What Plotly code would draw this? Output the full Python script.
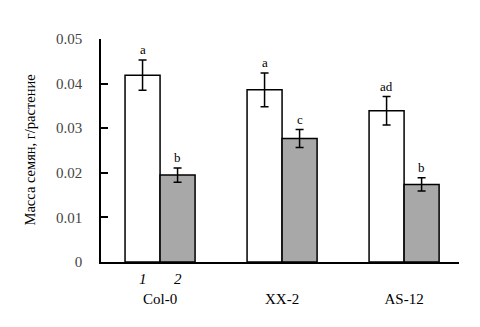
import plotly.graph_objects as go

categories = ["Col-0", "XX-2", "AS-12"]
series1 = [0.0419, 0.0386, 0.0339]
err1 = [0.0034, 0.0038, 0.0032]
series2 = [0.0195, 0.0277, 0.0174]
err2 = [0.0016, 0.0020, 0.0015]
letters1 = ["a", "a", "ad"]
letters2 = ["b", "c", "b"]
series_labels = ["1", "2"]
y_ticks = [0, 0.01, 0.02, 0.03, 0.04, 0.05]
y_ticktext = ["0", "0.01", "0.02", "0.03", "0.04", "0.05"]
y_title = "Масса семян, г/растение"

FONT = "'Liberation Serif', 'Times New Roman', serif"
xpos = list(range(len(categories)))
bw = 0.287

fig = go.Figure()
fig.add_trace(go.Bar(
    x=xpos, y=series1, width=bw, offset=-bw,
    marker=dict(color="white", line=dict(color="black", width=1.5)),
    error_y=dict(type="data", array=err1, color="black", thickness=1.5, width=4),
    showlegend=False))
fig.add_trace(go.Bar(
    x=xpos, y=series2, width=bw, offset=0,
    marker=dict(color="#a8a8a8", line=dict(color="black", width=1.5)),
    error_y=dict(type="data", array=err2, color="black", thickness=1.5, width=4),
    showlegend=False))

ann = []
for i in range(len(categories)):
    ann.append(dict(x=xpos[i] - bw / 2, y=series1[i] + err1[i], text=letters1[i],
                    showarrow=False, yanchor="bottom", yshift=1,
                    font=dict(family=FONT, size=13, color="black")))
    ann.append(dict(x=xpos[i] + bw / 2, y=series2[i] + err2[i], text=letters2[i],
                    showarrow=False, yanchor="bottom", yshift=1,
                    font=dict(family=FONT, size=13, color="black")))
ann.append(dict(x=xpos[0] - bw / 2, y=0, yref="y", text="<i>" + series_labels[0] + "</i>",
                showarrow=False, yanchor="top", yshift=-7,
                font=dict(family=FONT, size=15, color="black")))
ann.append(dict(x=xpos[0] + bw / 2, y=0, yref="y", text="<i>" + series_labels[1] + "</i>",
                showarrow=False, yanchor="top", yshift=-7,
                font=dict(family=FONT, size=15, color="black")))
ann.append(dict(x=-72 / 358.0, xref="paper", xanchor="center", y=0.5, yref="paper",
                yanchor="middle", text=y_title, textangle=-90, showarrow=False,
                font=dict(family=FONT, size=14.5, color="black")))

fig.update_layout(
    width=480, height=327,
    margin=dict(l=101, r=21, t=39, b=65, autoexpand=False),
    plot_bgcolor="white", paper_bgcolor="white",
    font=dict(family=FONT, size=14, color="black"),
    barmode="overlay",
    annotations=ann,
    xaxis=dict(range=[-0.484, 2.45], tickvals=xpos, ticktext=categories,
               showgrid=False, zeroline=False, showline=True, linecolor="black",
               linewidth=1.5, ticks="", ticklabelstandoff=22, automargin=False,
               tickfont=dict(family=FONT, size=15, color="black")),
    yaxis=dict(range=[0, 0.05], tickvals=y_ticks, ticktext=y_ticktext,
               showgrid=False, zeroline=False, showline=True, linecolor="black",
               linewidth=1.5, ticks="inside", ticklen=7, tickwidth=1.5, tickcolor="black",
               ticklabelstandoff=14, automargin=False,
               tickfont=dict(family=FONT, size=15, color="#444444")),
)

fig.write_html("out.html", config={"displayModeBar": False},
               post_script="document.body.style.margin='0';document.body.style.overflow='hidden';")
